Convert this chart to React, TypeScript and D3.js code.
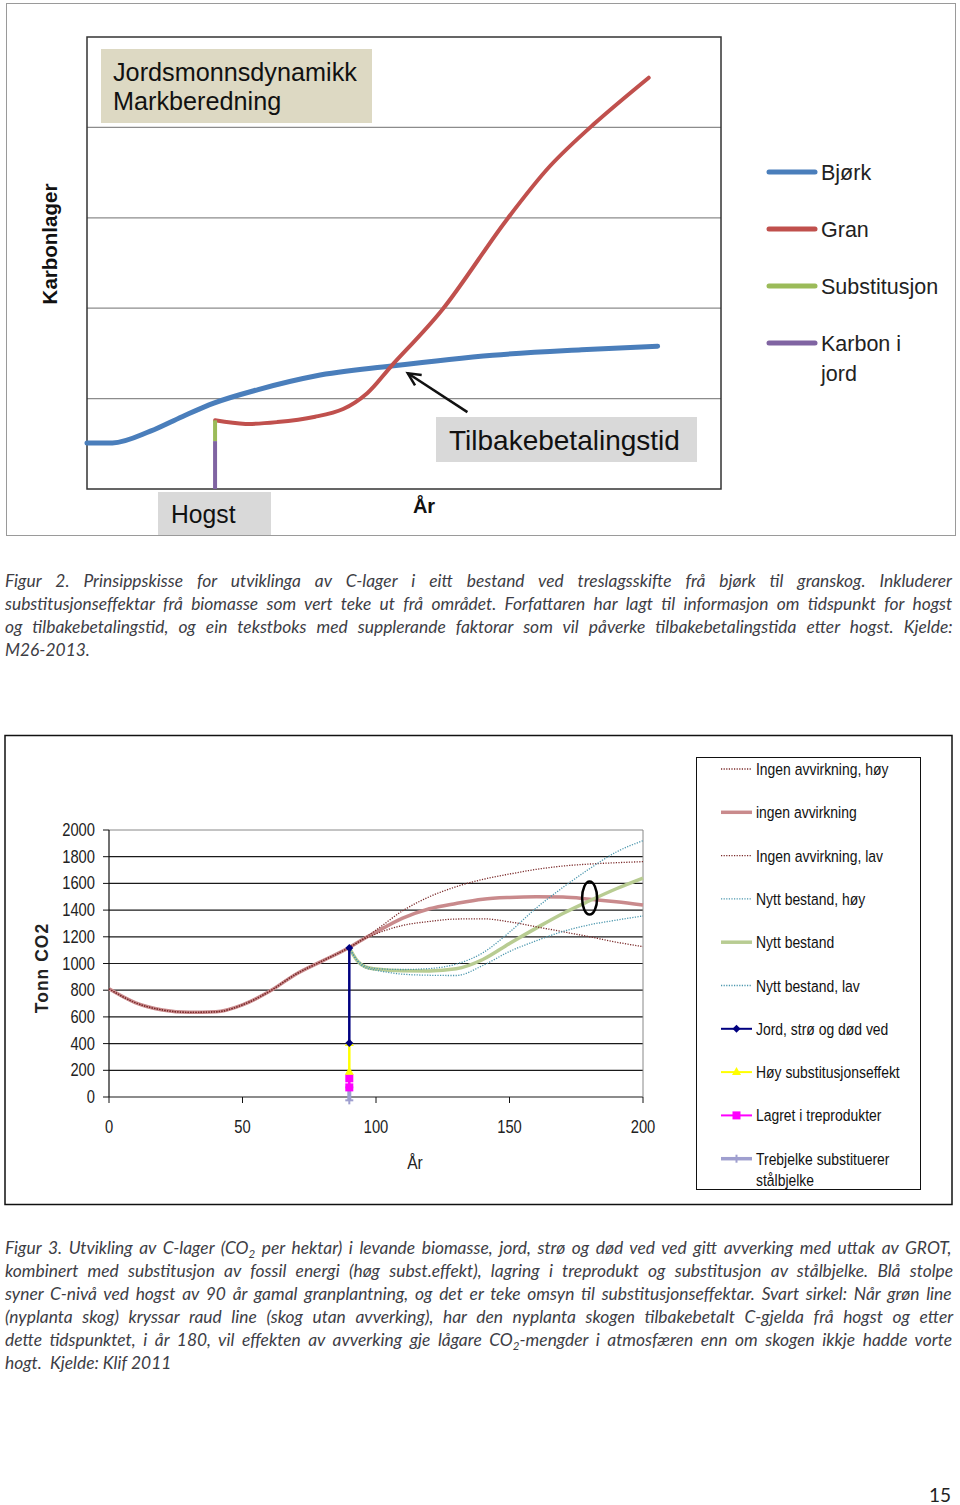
import React from "react";
import * as d3 from "d3";

// ---------- Figure 2 (schematic) data ----------
const fig2GridLevels = [1, 2, 3, 4];
const bjorkX = [0, 4, 10, 15, 20, 27, 36, 48, 64, 78, 90];
const bjorkY = [0.51, 0.51, 0.64, 0.8, 0.95, 1.1, 1.25, 1.36, 1.48, 1.54, 1.58];
const granX = [20.2, 25, 30, 36, 40.4, 44.2, 48, 56, 66, 73, 80, 88.6];
const granY = [0.76, 0.72, 0.74, 0.8, 0.885, 1.06, 1.36, 1.98, 2.96, 3.57, 4.04, 4.55];
const hogstX = 20.2;
const substRange = [0.53, 0.76];
const jordRange = [0, 0.53];
const fig2Legend = ["Bjørk", "Gran", "Substitusjon", "Karbon i|jord"];
const fig2LegendColors = ["#4a7ebb", "#c0504d", "#9bbb59", "#8064a2"];
const paybackArrow = { from: [60, 0.85], to: [50.6, 1.28] };

// ---------- Figure 3 data ----------
const yTicks = [0, 200, 400, 600, 800, 1000, 1200, 1400, 1600, 1800, 2000];
const xTicks = [0, 50, 100, 150, 200];

const ingenYears = [0, 10, 20, 30, 40, 50, 60, 70, 80, 90, 95, 100, 110, 120, 130, 140, 150, 160, 170, 180, 190, 200];
const ingenVals = [810, 705, 652, 634, 638, 690, 790, 920, 1020, 1120, 1180, 1235, 1340, 1410, 1450, 1482, 1495, 1500, 1498, 1482, 1462, 1438];

const ingenHoyYears = [0, 10, 20, 30, 40, 50, 60, 70, 80, 90, 95, 100, 110, 120, 130, 140, 150, 160, 170, 180, 190, 200];
const ingenHoyVals = [810, 705, 652, 634, 638, 690, 790, 920, 1020, 1120, 1182, 1250, 1395, 1500, 1575, 1630, 1670, 1705, 1730, 1745, 1755, 1763];

const ingenLavYears = [0, 10, 20, 30, 40, 50, 60, 70, 80, 90, 95, 100, 110, 120, 130, 140, 150, 160, 170, 180, 190, 200];
const ingenLavVals = [810, 705, 652, 634, 638, 690, 790, 920, 1020, 1120, 1178, 1222, 1285, 1315, 1333, 1335, 1312, 1275, 1238, 1200, 1160, 1126];

const nyttYears = [90, 93, 96, 100, 110, 120, 130, 140, 150, 160, 170, 180, 190, 200];
const nyttVals = [1118, 1020, 975, 958, 945, 944, 960, 1030, 1150, 1265, 1375, 1470, 1560, 1640];
const nyttHoyVals = [1118, 1025, 980, 962, 955, 962, 995, 1080, 1235, 1415, 1570, 1710, 1835, 1920];
const nyttLavVals = [1118, 1018, 968, 950, 920, 912, 910, 985, 1090, 1170, 1240, 1290, 1325, 1356];

const harvestYear = 90;
const jordSeg = [404, 1116];
const hoySubstSeg = [190, 404];
const lagretSeg = [72, 140];
const trebjelkeSeg = [-25, 72];
const paybackCircle = { year: 180, value: 1490 };

const fig3Legend = [
  "Ingen avvirkning, høy",
  "ingen avvirkning",
  "Ingen avvirkning, lav",
  "Nytt bestand, høy",
  "Nytt bestand",
  "Nytt bestand, lav",
  "Jord, strø og død ved",
  "Høy substitusjonseffekt",
  "Lagret i treprodukter",
  "Trebjelke substituerer|stålbjelke",
];

const caption2 = [
  "Figur 2. Prinsippskisse for utviklinga av C-lager i eitt bestand ved treslagsskifte frå bjørk til granskog. Inkluderer",
  "substitusjonseffektar frå biomasse som vert teke ut frå området. Forfattaren har lagt til informasjon om tidspunkt for hogst",
  "og tilbakebetalingstid, og ein tekstboks med supplerande faktorar som vil påverke tilbakebetalingstida etter hogst. Kjelde:",
  "M26-2013.",
];
const caption3 = [
  "Figur 3. Utvikling av C-lager (CO{2} per hektar) i levande biomasse, jord, strø og død ved ved gitt avverking med uttak av GROT,",
  "kombinert med substitusjon av fossil energi (høg subst.effekt), lagring i treprodukt og substitusjon av stålbjelke. Blå stolpe",
  "syner C-nivå ved hogst av 90 år gamal granplantning, og det er teke omsyn til substitusjonseffektar. Svart sirkel: Når grøn line",
  "(nyplanta skog) kryssar raud line (skog utan avverking), har den nyplanta skogen tilbakebetalt C-gjelda frå hogst og etter",
  "dette tidspunktet, i år 180, vil effekten av avverking gje lågare CO{2}-mengder i atmosfæren enn om skogen ikkje hadde vorte",
  "hogt.  Kjelde: Klif 2011",
];

const SANS = "'Liberation Sans', Arial, sans-serif";
const CAP = "Lato, 'Open Sans', sans-serif";
const CAP_SIZE = 17.4;
const SUB_SIZE = 11.5;

let measureCtx: CanvasRenderingContext2D | null = null;
function measure(text: string, size: number) {
  if (typeof document === "undefined") return text.length * size * 0.45;
  if (!measureCtx) measureCtx = document.createElement("canvas").getContext("2d");
  if (!measureCtx) return text.length * size * 0.45;
  measureCtx.font = `italic ${size}px Lato`;
  return measureCtx.measureText(text).width;
}

function Narrow({ x, y, size, anchor = "start", sx = 0.82, fill = "#111", children, weight = "normal" }: any) {
  return (
    <text
      transform={`translate(${x},${y}) scale(${sx},1)`}
      fontFamily={SANS}
      fontSize={size}
      textAnchor={anchor}
      fill={fill}
      fontWeight={weight}
    >
      {children}
    </text>
  );
}

function CaptionLine({ text, x, y, width, justify }: any) {
  const parts = text.split(/(\{2\})/);
  const pieces: any[] = [];
  let sub = false;
  let natural = 0;
  parts.forEach((p: string, i: number) => {
    if (p === "{2}") {
      natural += measure("2", SUB_SIZE);
      pieces.push(
        <tspan key={i} dy={4} fontSize={SUB_SIZE}>
          2
        </tspan>
      );
      sub = true;
    } else if (p.length) {
      natural += measure(p, CAP_SIZE);
      pieces.push(
        <tspan key={i} dy={sub ? -4 : 0}>
          {p}
        </tspan>
      );
      sub = false;
    }
  });
  const spaces = (text.match(/ /g) || []).length;
  const ws = justify && spaces > 0 ? (width - natural) / spaces : 0;
  return (
    <text
      x={x}
      y={y}
      fontFamily={CAP}
      fontStyle="italic"
      fontSize={CAP_SIZE}
      fill="#3d3d45"
      style={{ whiteSpace: "pre", wordSpacing: `${ws}px` }}
    >
      {pieces}
    </text>
  );
}

function Figure2() {
  const x = d3.scaleLinear().domain([0, 100]).range([87, 721]);
  const y = d3.scaleLinear().domain([0, 5]).range([489, 37]);
  const line = d3
    .line<[number, number]>()
    .x((d) => x(d[0]))
    .y((d) => y(d[1]))
    .curve(d3.curveMonotoneX);
  const smooth = d3
    .line<[number, number]>()
    .x((d) => x(d[0]))
    .y((d) => y(d[1]))
    .curve(d3.curveCatmullRom.alpha(0.5));
  const bj = bjorkX.map((v, i) => [v, bjorkY[i]] as [number, number]);
  const gr = granX.map((v, i) => [v, granY[i]] as [number, number]);
  const a0 = [x(paybackArrow.from[0]), y(paybackArrow.from[1])];
  const a1 = [x(paybackArrow.to[0]), y(paybackArrow.to[1])];
  const ang = Math.atan2(a0[1] - a1[1], a0[0] - a1[0]);
  const hl = 14;
  const h1 = [a1[0] + hl * Math.cos(ang + 0.45), a1[1] + hl * Math.sin(ang + 0.45)];
  const h2 = [a1[0] + hl * Math.cos(ang - 0.45), a1[1] + hl * Math.sin(ang - 0.45)];
  return (
    <g>
      <rect x={6.5} y={3.5} width={949} height={532} fill="#fff" stroke="#9a9a9a" strokeWidth={1} />
      {fig2GridLevels.map((g) => (
        <line key={g} x1={87} x2={721} y1={y(g)} y2={y(g)} stroke="#8c8c8c" strokeWidth={1.2} />
      ))}
      <rect x={87} y={37} width={634} height={452} fill="none" stroke="#333" strokeWidth={1.5} />
      <rect x={101} y={49} width={271} height={74} fill="#ddd9c3" />
      <Narrow x={113} y={81} size={26} sx={0.97} fill="#111">Jordsmonnsdynamikk</Narrow>
      <Narrow x={113} y={110} size={26} sx={0.97} fill="#111">Markberedning</Narrow>
      <path d={line(bj) || ""} fill="none" stroke={fig2LegendColors[0]} strokeWidth={5} strokeLinecap="round" />
      <path d={smooth(gr) || ""} fill="none" stroke={fig2LegendColors[1]} strokeWidth={4} strokeLinecap="round" />
      <line x1={x(hogstX)} x2={x(hogstX)} y1={y(jordRange[0])} y2={y(jordRange[1])} stroke={fig2LegendColors[3]} strokeWidth={4} />
      <line x1={x(hogstX)} x2={x(hogstX)} y1={y(substRange[0])} y2={y(substRange[1])} stroke={fig2LegendColors[2]} strokeWidth={4} />
      <line x1={a0[0]} y1={a0[1]} x2={a1[0]} y2={a1[1]} stroke="#111" strokeWidth={2.5} />
      <polyline points={`${h1[0]},${h1[1]} ${a1[0]},${a1[1]} ${h2[0]},${h2[1]}`} fill="none" stroke="#111" strokeWidth={2.5} />
      <rect x={436} y={417} width={261} height={45} fill="#d9d9d9" />
      <Narrow x={449} y={450} size={28} sx={1.0} fill="#111">Tilbakebetalingstid</Narrow>
      <rect x={158} y={492} width={113} height={43} fill="#d9d9d9" />
      <Narrow x={171} y={523} size={26} sx={0.95} fill="#111">Hogst</Narrow>
      <text x={424} y={513} textAnchor="middle" fontFamily={SANS} fontWeight="bold" fontSize={20} fill="#111">
        År
      </text>
      <text
        transform={`translate(57,244) rotate(-90)`}
        textAnchor="middle"
        fontFamily={SANS}
        fontWeight="bold"
        fontSize={20.5}
        fill="#111"
      >
        Karbonlager
      </text>
      {fig2Legend.map((l, i) => {
        const yy = 172 + i * 57;
        const parts = l.split("|");
        return (
          <g key={l}>
            <line x1={769} x2={815} y1={yy} y2={yy} stroke={fig2LegendColors[i]} strokeWidth={5} strokeLinecap="round" />
            {parts.map((p, j) => (
              <Narrow key={p} x={821} y={yy + 8 + j * 30} size={21.5} sx={1.0} fill="#222">
                {p}
              </Narrow>
            ))}
          </g>
        );
      })}
    </g>
  );
}

function marker(kind: string, cx: number, cy: number, color: string, key: string) {
  if (kind === "diamond")
    return <path key={key} d={`M${cx},${cy - 4}L${cx + 4},${cy}L${cx},${cy + 4}L${cx - 4},${cy}Z`} fill={color} />;
  if (kind === "triangle")
    return <path key={key} d={`M${cx},${cy - 5}L${cx + 4.5},${cy + 3}L${cx - 4.5},${cy + 3}Z`} fill={color} />;
  if (kind === "square") return <rect key={key} x={cx - 4} y={cy - 4} width={8} height={8} fill={color} />;
  if (kind === "star")
    return (
      <g key={key} stroke={color} strokeWidth={2}>
        <line x1={cx - 4} x2={cx + 4} y1={cy} y2={cy} />
        <line x1={cx} x2={cx} y1={cy - 4} y2={cy + 4} />
      </g>
    );
  return null;
}

function Figure3() {
  const x = d3.scaleLinear().domain([0, 200]).range([109, 643]);
  const y = d3.scaleLinear().domain([0, 2000]).range([1097, 830]);
  const line = d3
    .line<[number, number]>()
    .x((d) => x(d[0]))
    .y((d) => y(d[1]))
    .curve(d3.curveMonotoneX);
  const mk = (xs: number[], vs: number[]) => line(xs.map((v, i) => [v, vs[i]] as [number, number])) || "";

  const legendStyles = [
    { color: "#7a2a2a", w: 1.3, dash: "1.2 1.4" },
    { color: "#c98a8c", w: 3.5 },
    { color: "#7a2a2a", w: 1.3, dash: "1.2 1.4" },
    { color: "#4a96ad", w: 1.3, dash: "1.2 1.4" },
    { color: "#b8cc92", w: 3.5 },
    { color: "#4a96ad", w: 1.3, dash: "1.2 1.4" },
    { color: "#000080", w: 2, m: "diamond" },
    { color: "#ffff00", w: 2, m: "triangle" },
    { color: "#ff00ff", w: 2, m: "square" },
    { color: "#9f9fcf", w: 3.5, m: "star" },
  ];

  const hx = x(harvestYear);
  const segs = [
    { r: trebjelkeSeg, s: legendStyles[9] },
    { r: lagretSeg, s: legendStyles[8] },
    { r: hoySubstSeg, s: legendStyles[7] },
    { r: jordSeg, s: legendStyles[6] },
  ];

  return (
    <g>
      <rect x={5} y={735.5} width={947} height={469} fill="#fff" stroke="#111" strokeWidth={1.5} />
      {yTicks.map((t) => (
        <line key={t} x1={109} x2={643} y1={y(t)} y2={y(t)} stroke={t === 2000 ? "#888" : "#1a1a1a"} strokeWidth={t === 2000 ? 1 : 1.2} />
      ))}
      <line x1={643} x2={643} y1={830} y2={1097} stroke="#888" strokeWidth={1} />
      <line x1={109} x2={109} y1={830} y2={1097} stroke="#111" strokeWidth={1.2} />
      {yTicks.map((t) => (
        <g key={"yt" + t}>
          <line x1={103} x2={109} y1={y(t)} y2={y(t)} stroke="#111" />
          <Narrow x={95} y={y(t) + 6} size={18} anchor="end" fill="#222">
            {t}
          </Narrow>
        </g>
      ))}
      {xTicks.map((t) => (
        <g key={"xt" + t}>
          <line x1={x(t)} x2={x(t)} y1={1097} y2={1103} stroke="#111" />
          <Narrow x={x(t)} y={1133} size={18} anchor="middle" fill="#222">
            {t}
          </Narrow>
        </g>
      ))}
      <Narrow x={415} y={1169} size={19} anchor="middle" fill="#222">
        År
      </Narrow>
      <text
        transform="translate(48,968) rotate(-90)"
        textAnchor="middle"
        fontFamily={SANS}
        fontWeight="bold"
        fontSize={17.5}
        letterSpacing={1}
        fill="#222"
      >
        Tonn CO2
      </text>

      <path d={mk(ingenYears, ingenVals)} fill="none" stroke={legendStyles[1].color} strokeWidth={3.5} />
      <path d={mk(nyttYears, nyttVals)} fill="none" stroke={legendStyles[4].color} strokeWidth={3.5} />
      <path d={mk(ingenHoyYears, ingenHoyVals)} fill="none" stroke={legendStyles[0].color} strokeWidth={1.3} strokeDasharray={legendStyles[0].dash} />
      <path d={mk(ingenLavYears, ingenLavVals)} fill="none" stroke={legendStyles[2].color} strokeWidth={1.3} strokeDasharray={legendStyles[2].dash} />
      <path d={mk(nyttYears, nyttHoyVals)} fill="none" stroke={legendStyles[3].color} strokeWidth={1.3} strokeDasharray={legendStyles[3].dash} />
      <path d={mk(nyttYears, nyttLavVals)} fill="none" stroke={legendStyles[5].color} strokeWidth={1.3} strokeDasharray={legendStyles[5].dash} />

      {segs.map((sg, i) => (
        <g key={"sg" + i}>
          <line x1={hx} x2={hx} y1={y(sg.r[0])} y2={y(sg.r[1])} stroke={sg.s.color} strokeWidth={sg.s.w === 3.5 ? 4 : 2.5} />
          {marker(sg.s.m as string, hx, y(sg.r[0]), sg.s.color, "a")}
          {marker(sg.s.m as string, hx, y(sg.r[1]), sg.s.color, "b")}
        </g>
      ))}

      <ellipse cx={x(paybackCircle.year)} cy={y(paybackCircle.value)} rx={7.5} ry={16.5} fill="none" stroke="#000" strokeWidth={2.5} />

      <rect x={696.5} y={757.5} width={224} height={432} fill="#fff" stroke="#111" strokeWidth={1} />
      {fig3Legend.map((l, i) => {
        const yy = 769 + i * 43.3;
        const s = legendStyles[i];
        const parts = l.split("|");
        return (
          <g key={l}>
            <line x1={721} x2={752} y1={yy} y2={yy} stroke={s.color} strokeWidth={s.w} strokeDasharray={s.dash} />
            {s.m ? marker(s.m, 736.5, yy, s.color, "m") : null}
            {parts.map((p, j) => (
              <Narrow key={p} x={756} y={yy + 6 + j * 21} size={17} fill="#111">
                {p}
              </Narrow>
            ))}
          </g>
        );
      })}
    </g>
  );
}

export default function App() {
  return (
    <svg
      width={960}
      height={1505}
      viewBox="0 0 960 1505"
      style={{ position: "absolute", left: 0, top: 0, background: "#fff" }}
    >
      <rect x={0} y={0} width={960} height={1505} fill="#fff" />
      <Figure2 />
      {caption2.map((t, i) => (
        <CaptionLine key={i} text={t} x={5} y={587 + i * 23} width={949} justify={i < caption2.length - 1} />
      ))}
      <Figure3 />
      {caption3.map((t, i) => (
        <CaptionLine key={i} text={t} x={5} y={1254 + i * 23} width={949} justify={i < caption3.length - 1} />
      ))}
      <text x={951} y={1502} textAnchor="end" fontFamily={CAP} fontSize={19} fill="#222">
        15
      </text>
    </svg>
  );
}
